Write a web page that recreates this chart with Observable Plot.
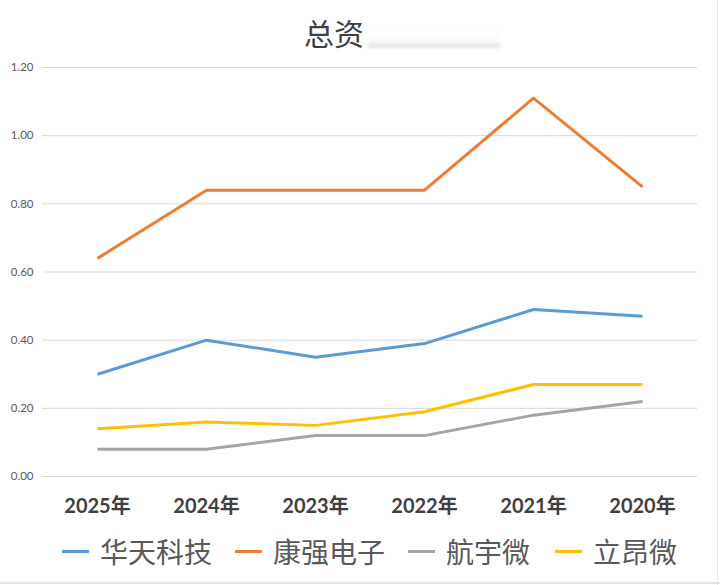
<!DOCTYPE html>
<html>
<head>
<meta charset="utf-8">
<script src="https://cdn.jsdelivr.net/npm/d3@7"></script>
<script src="https://cdn.jsdelivr.net/npm/@observablehq/plot@0.6"></script>
<style>
  html, body { margin: 0; padding: 0; background: #fff; }
  #wrap { position: relative; width: 720px; height: 585px; overflow: hidden; background: #fff; }
  #title { position: absolute; left: 304px; top: 11px; font-family: "Noto Sans CJK SC", sans-serif; font-size: 30px; color: #404040; line-height: 42px; white-space: nowrap; }
  #blur { position: absolute; left: 368px; top: 26px; width: 132px; height: 22px; filter: blur(1.5px);
          background: linear-gradient(to bottom, rgba(255,255,255,0) 0%, rgba(248,246,243,0.5) 65%, rgba(190,190,185,0.5) 100%); }
  #chart { position: absolute; left: 0; top: 0; }
  #legend { position: absolute; left: 0; top: 529px; width: 720px; height: 44px; font-family: "Noto Sans CJK SC", sans-serif; font-size: 28px; color: #595959; }
  .item { position: absolute; top: 0; height: 44px; display: flex; align-items: center; white-space: nowrap; }
  .sw { display: inline-block; width: 27px; height: 3px; margin-right: 11px; }
  #rb { position: absolute; right: 2px; top: 0; width: 1px; height: 585px; background: #e6e6e6; }
  #bb { position: absolute; left: 0; top: 582px; width: 720px; height: 2px; background: #e2e2e2; }
</style>
</head>
<body>
<div id="wrap">
  <div id="chart"></div>
  <div id="title">总资</div>
  <div id="blur"></div>
  <div id="legend"></div>
  <div id="rb"></div>
  <div id="bb"></div>
</div>
<script>
const years = ["2025年", "2024年", "2023年", "2022年", "2021年", "2020年"];
const seriesNames = ["华天科技", "康强电子", "航宇微", "立昂微"];
const colors = ["#5B9BD5", "#ED7D31", "#A5A5A5", "#FFC000"];
const huatian = [0.30, 0.40, 0.35, 0.39, 0.49, 0.47];
const kangqiang = [0.64, 0.84, 0.84, 0.84, 1.11, 0.85];
const hangyu = [0.08, 0.08, 0.12, 0.12, 0.18, 0.22];
const liang = [0.14, 0.16, 0.15, 0.19, 0.27, 0.27];
const yTicks = [0, 0.2, 0.4, 0.6, 0.8, 1.0, 1.2];
const legendX = [62, 235, 408, 555];

const allValues = [huatian, kangqiang, hangyu, liang];
const data = [];
seriesNames.forEach((s, i) => {
  years.forEach((y, j) => data.push({series: s, year: y, value: allValues[i][j]}));
});

const chart = Plot.plot({
  width: 720,
  height: 525,
  marginTop: 67,
  marginBottom: 49,
  marginLeft: 42,
  marginRight: 23,
  style: { background: "transparent", fontFamily: "Lato, 'Noto Sans CJK SC', sans-serif" },
  x: { type: "point", domain: years, padding: 0.5, label: null },
  y: { domain: [0, 1.2], label: null },
  color: { domain: seriesNames, range: colors },
  marks: [
    Plot.gridY(yTicks, { stroke: "#d9d9d9", strokeOpacity: 1, strokeWidth: 1 }),
    Plot.axisY(yTicks, { tickSize: 0, tickPadding: 9, tickFormat: d3.format(".2f"), fontSize: 11.5, fill: "#595959", label: null }),
    Plot.axisX({ tickSize: 0, tickPadding: 22, fontSize: 20, fontWeight: "bold", fill: "#404040", label: null,
                 fontFamily: "Lato, 'Noto Sans CJK SC', sans-serif" }),
    Plot.line(data, { x: "year", y: "value", z: "series", stroke: "series", strokeWidth: 3, strokeLinejoin: "round", strokeLinecap: "butt" })
  ]
});
document.getElementById("chart").appendChild(chart);

const legend = document.getElementById("legend");
seriesNames.forEach((s, i) => {
  const it = document.createElement("div");
  it.className = "item";
  it.style.left = legendX[i] + "px";
  const sw = document.createElement("span");
  sw.className = "sw";
  sw.style.background = colors[i];
  it.appendChild(sw);
  it.appendChild(document.createTextNode(s));
  legend.appendChild(it);
});
</script>
</body>
</html>
